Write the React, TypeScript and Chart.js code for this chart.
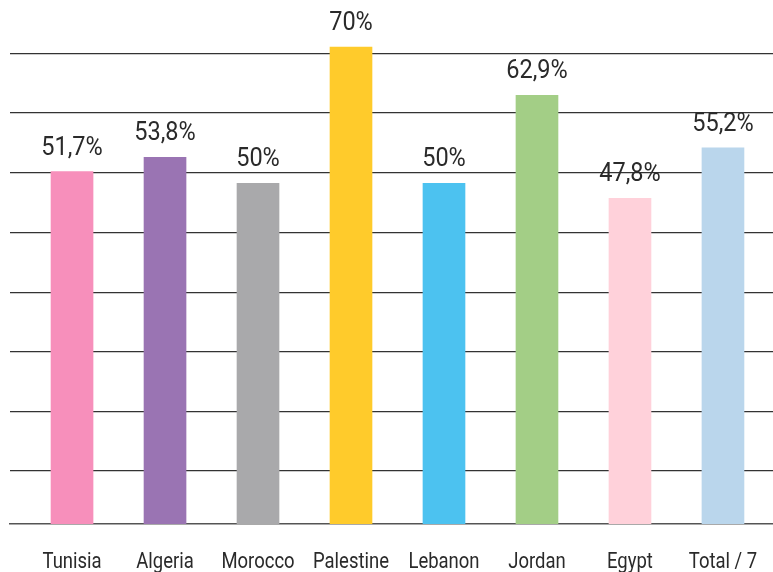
import React, { useEffect, useRef } from "react";
import { Chart, registerables } from "chart.js";

Chart.register(...registerables);

const categories = ["Tunisia", "Algeria", "Morocco", "Palestine", "Lebanon", "Jordan", "Egypt", "Total / 7"];
const values = [51.7, 53.8, 50, 70, 50, 62.9, 47.8, 55.2];
const barColors = ["#F78FBB", "#9A74B3", "#A9A9AB", "#FFCB2B", "#4CC2F0", "#A3CE86", "#FFD1DA", "#BAD6EC"];
const gridValues = [7.9, 16.5, 25.3, 34.0, 42.8, 51.6, 60.3, 69.0];

const FONT = "Roboto, 'Liberation Sans', sans-serif";

function drawNarrow(ctx: CanvasRenderingContext2D, text: string, x: number, y: number, squeeze: number) {
  ctx.save();
  ctx.translate(x, y);
  ctx.scale(squeeze, 1);
  ctx.fillText(text, 0, 0);
  ctx.restore();
}

const textPlugin = {
  id: "narrowText",
  afterDatasetsDraw(chart: any) {
    const ctx = chart.ctx as CanvasRenderingContext2D;
    const meta = chart.getDatasetMeta(0);
    ctx.save();
    ctx.fillStyle = "#2a2a2a";
    ctx.textAlign = "center";
    ctx.textBaseline = "alphabetic";
    ctx.font = `25px ${FONT}`;
    meta.data.forEach((el: any, i: number) => {
      const label = `${String(values[i]).replace(".", ",")}%`;
      drawNarrow(ctx, label, el.x, el.y - 17, 0.94);
    });
    const xs = chart.scales.x;
    ctx.font = `22px ${FONT}`;
    categories.forEach((c, i) => {
      drawNarrow(ctx, c, xs.getPixelForValue(i), xs.top + 44, 0.84);
    });
    ctx.restore();
  },
};

export default function App() {
  const ref = useRef<HTMLCanvasElement>(null);
  useEffect(() => {
    if (!ref.current) return;
    const chart = new Chart(ref.current, {
      type: "bar",
      data: {
        datasets: [
          {
            data: values.map((v, i) => ({ x: i, y: v })),
            backgroundColor: barColors,
            borderWidth: 0,
            barThickness: 42,
          },
        ],
      },
      options: {
        animation: false,
        responsive: false,
        maintainAspectRatio: false,
        layout: { padding: { left: 10, right: 0, top: 10, bottom: 0 } },
        plugins: { legend: { display: false }, tooltip: { enabled: false } },
        scales: {
          x: {
            type: "linear",
            offset: false,
            min: -0.667,
            max: 7.538,
            grid: { display: false, drawTicks: false, offset: false },
            border: { display: true, color: "#555", width: 1.5 },
            afterBuildTicks: (scale: any) => {
              scale.ticks = categories.map((_, i) => ({ value: i }));
            },
            afterFit: (scale: any) => {
              scale.height = 48;
            },
            ticks: { display: false },
          },
          y: {
            min: 0,
            max: 75.43,
            grid: { color: "#333", lineWidth: 1.2, drawTicks: false },
            border: { display: false },
            afterBuildTicks: (scale: any) => {
              scale.ticks = gridValues.map((v) => ({ value: v }));
            },
            afterFit: (scale: any) => {
              scale.width = 0;
            },
            ticks: { display: false },
          },
        },
      },
      plugins: [textPlugin],
    });
    return () => chart.destroy();
  }, []);
  return (
    <div style={{ position: "fixed", left: 0, top: 0, width: 773, height: 572, background: "#fff" }}>
      <canvas ref={ref} width={773} height={572} style={{ display: "block" }} />
    </div>
  );
}
